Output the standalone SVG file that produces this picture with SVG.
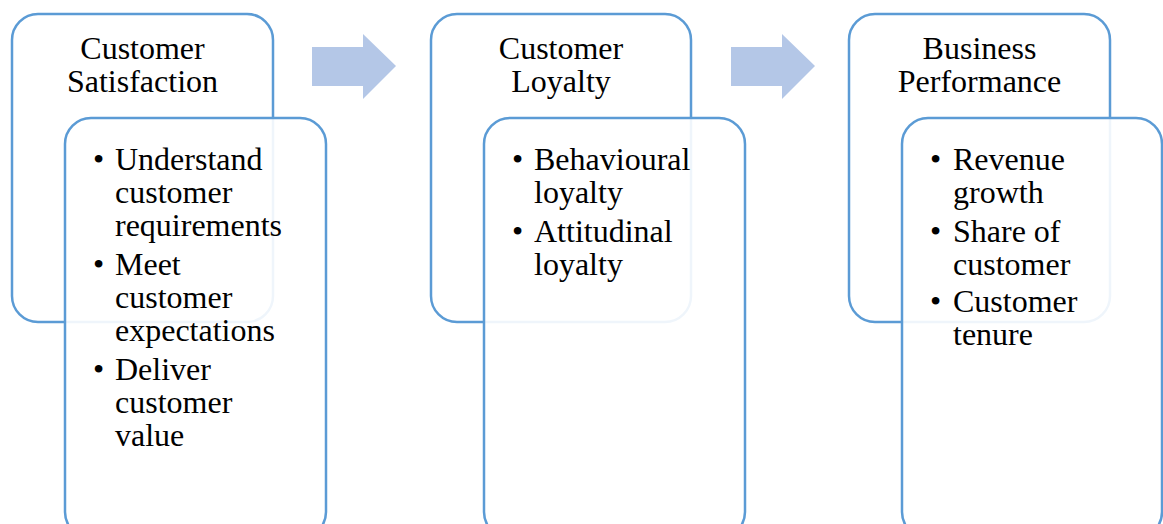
<svg xmlns="http://www.w3.org/2000/svg" width="1163" height="524" viewBox="0 0 1163 524">
<style>
.outer{fill:#ffffff;stroke:#5B9BD5;stroke-width:2.5}
.inner{fill:#ffffff;fill-opacity:0.9;stroke:#5B9BD5;stroke-width:2.5}
.arrow{fill:#B4C7E7}
text{font-family:"Liberation Serif","Times New Roman",serif;font-size:32px;fill:#000}
.title{text-anchor:middle}
</style>
<rect width="1163" height="524" fill="#ffffff"/>
<g id="connectors">
<polygon class="arrow" points="312,47 363,47 363,34 396,66 363,99 363,86 312,86"/>
<polygon class="arrow" points="731,47 782,47 782,34 815,66 782,99 782,86 731,86"/>
</g>
<g id="node-satisfaction">
<rect class="outer" x="12" y="14" width="261" height="308" rx="26"/>
<text class="title" x="142.5" y="59">Customer</text>
<text class="title" x="142.5" y="92">Satisfaction</text>
</g>
<g id="node-satisfaction-items">
<rect class="inner" x="65" y="118" width="261" height="420" rx="26"/>
<text x="93" y="170">•</text><text x="115" y="170">Understand</text>
<text x="115" y="203">customer</text>
<text x="115" y="236">requirements</text>
<text x="93" y="275">•</text><text x="115" y="275">Meet</text>
<text x="115" y="308">customer</text>
<text x="115" y="341">expectations</text>
<text x="93" y="380">•</text><text x="115" y="380">Deliver</text>
<text x="115" y="413">customer</text>
<text x="115" y="446">value</text>
</g>
<g id="node-loyalty">
<rect class="outer" x="431" y="14" width="260" height="308" rx="26"/>
<text class="title" x="561" y="59">Customer</text>
<text class="title" x="561" y="92">Loyalty</text>
</g>
<g id="node-loyalty-items">
<rect class="inner" x="484" y="118" width="261" height="420" rx="26"/>
<text x="512" y="170">•</text><text x="534" y="170">Behavioural</text>
<text x="534" y="203">loyalty</text>
<text x="512" y="242">•</text><text x="534" y="242">Attitudinal</text>
<text x="534" y="275">loyalty</text>
</g>
<g id="node-performance">
<rect class="outer" x="849" y="14" width="261" height="308" rx="26"/>
<text class="title" x="979.5" y="59">Business</text>
<text class="title" x="979.5" y="92">Performance</text>
</g>
<g id="node-performance-items">
<rect class="inner" x="902" y="118" width="260" height="420" rx="26"/>
<text x="930" y="170">•</text><text x="953" y="170">Revenue</text>
<text x="953" y="203">growth</text>
<text x="930" y="242">•</text><text x="953" y="242">Share of</text>
<text x="953" y="275">customer</text>
<text x="930" y="312">•</text><text x="953" y="312">Customer</text>
<text x="953" y="345">tenure</text>
</g>
</svg>
